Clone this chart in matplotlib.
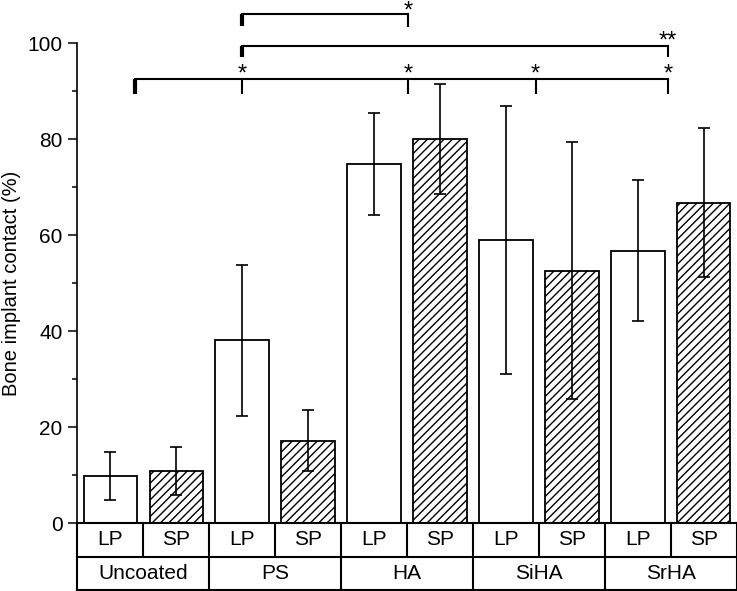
import matplotlib
matplotlib.use('Agg')
import matplotlib.pyplot as plt
import numpy as np

plt.rcParams['font.family'] = ['Liberation Sans', 'DejaVu Sans']
plt.rcParams['hatch.linewidth'] = 1.0

groups = ['Uncoated', 'PS', 'HA', 'SiHA', 'SrHA']
subs = ['LP', 'SP']
means = [9.8, 10.8, 38.1, 17.2, 74.8, 80.0, 59.0, 52.6, 56.8, 66.8]
errs = [5.0, 5.0, 15.7, 6.3, 10.6, 11.5, 28.0, 26.8, 14.7, 15.5]

# significance brackets
sig_long_x = [0.38, 2.0, 4.52, 6.45, 8.46]
sig_long_stars = ['', '*', '*', '*', '*']
sig_mid = (2.0, 8.46, '**')
sig_top = (2.0, 4.52, '*')

fig = plt.figure(figsize=(7.37, 5.91), dpi=100)
ax = fig.add_axes([0.1049, 0.1146, 0.8947, 0.8122])
n = len(means)
x = np.arange(n)
hatches = ['' if i % 2 == 0 else '////' for i in range(n)]
for i in range(n):
    ax.bar(x[i], means[i], 0.81, color='white', edgecolor='black', linewidth=1.3,
           hatch=hatches[i], zorder=2)
ax.errorbar(x, means, yerr=errs, fmt='none', ecolor='black', elinewidth=1.2,
            capsize=4, capthick=1.2, zorder=3)

ax.set_xlim(-0.5, n - 0.5)
ax.set_ylim(0, 100)
for s in ['top', 'right', 'bottom']:
    ax.spines[s].set_visible(False)
ax.spines['left'].set_linewidth(1.2)
ax.set_xticks([])
ax.set_yticks([0, 20, 40, 60, 80, 100])
ax.set_yticks([10, 30, 50, 70, 90], minor=True)
ax.tick_params(axis='y', which='major', length=6.5, width=1.1, labelsize=15, pad=4)
ax.tick_params(axis='y', which='minor', length=3.3, width=1.1)
ax.set_ylabel('Bone implant contact (%)', fontsize=14.5, labelpad=5)

# long bracket
lw = 1.5
star_fs = 17
ax.plot([sig_long_x[0], sig_long_x[-1]], [92.6, 92.6], color='black', lw=lw, clip_on=False)
for k, xs in enumerate(sig_long_x):
    ax.plot([xs, xs], [92.6, 89.5], color='black', lw=3 if k == 0 else lw,
            clip_on=False, solid_capstyle='butt')
    if sig_long_stars[k]:
        ax.text(xs, 91.2, sig_long_stars[k], ha='center', va='bottom', fontsize=star_fs,
                clip_on=False)

# middle bracket
x0, x1, lab = sig_mid
ax.plot([x0, x1], [99.5, 99.5], color='black', lw=lw, clip_on=False)
ax.plot([x0, x0], [99.5, 97.2], color='black', lw=3, clip_on=False, solid_capstyle='butt')
ax.plot([x1, x1], [99.5, 97.4], color='black', lw=lw, clip_on=False)
ax.text(x1, 98.0, lab, ha='center', va='bottom', fontsize=star_fs, clip_on=False)

# top bracket
x0, x1, lab = sig_top
ax.plot([x0, x1], [106.1, 106.1], color='black', lw=lw, clip_on=False)
ax.plot([x0, x0], [106.1, 103.7], color='black', lw=3, clip_on=False, solid_capstyle='butt')
ax.plot([x1, x1], [106.1, 103.7], color='black', lw=lw, clip_on=False)
ax.text(x1, 104.3, lab, ha='center', va='bottom', fontsize=star_fs, clip_on=False)

# table below axis
axt = fig.add_axes([0.1049, 0.0017, 0.8947, 0.1129])
axt.set_xlim(-0.5, n - 0.5)
axt.set_ylim(0, 2)
axt.axis('off')
kw = dict(color='black', lw=1.5, clip_on=False)
for yy in [0, 1, 2]:
    axt.plot([-0.5, n - 0.5], [yy, yy], **kw)
for i in range(n + 1):
    xb = i - 0.5
    if i % 2 == 0:
        axt.plot([xb, xb], [0, 2], **kw)
    else:
        axt.plot([xb, xb], [1, 2], **kw)
for i in range(n):
    axt.text(i, 1.5, subs[i % 2], ha='center', va='center', fontsize=15)
for g, name in enumerate(groups):
    axt.text(2 * g + 0.5, 0.5, name, ha='center', va='center', fontsize=15)

fig.savefig('out.png', dpi=100)
